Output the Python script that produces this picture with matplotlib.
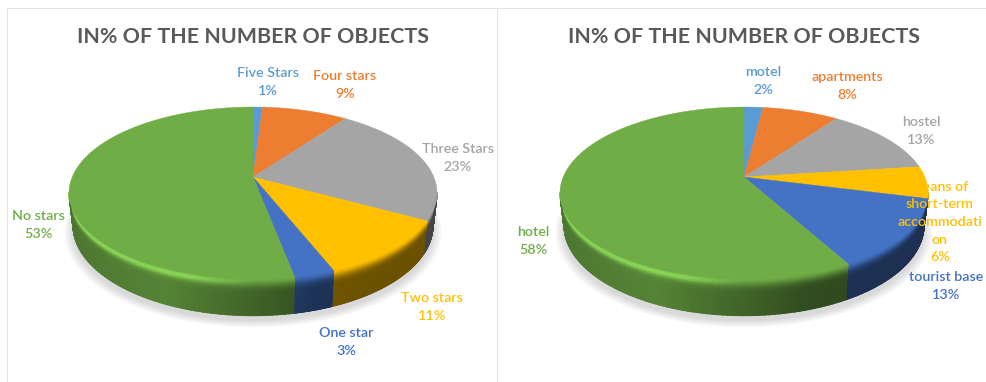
import numpy as np
import matplotlib
matplotlib.use('Agg')
import matplotlib.pyplot as plt
from matplotlib.colors import to_rgb
from matplotlib.patches import Polygon

title = 'IN% OF THE NUMBER OF OBJECTS'

stars_labels = ['Five Stars', 'Four stars', 'Three Stars', 'Two stars', 'One star', 'No stars']
stars_values = [1, 9, 23, 11, 3, 53]
stars_colors = ['#5b9bd5', '#ed7d31', '#a5a5a5', '#ffc000', '#4472c4', '#70ad47']

types_labels = ['motel', 'apartments', 'hostel',
                'means of\nshort-term\naccommodati\non', 'tourist base', 'hotel']
types_values = [2, 8, 13, 6, 13, 58]
types_colors = stars_colors

# label centres in figure pixels
stars_pos = [(268, 82), (345, 85), (458, 158), (432, 307), (346, 342), (38, 225)]
types_pos = [(763, 81), (847, 86), (921, 131), (940, 222), (946, 286), (533, 241)]

RX, RY, PERSP = 180.8, 83.0, 0.186
DEPTH = 31.7
SHRINK = 0.978
# the side wall shows between these angles, clockwise from 12 o'clock
SIDE_START, SIDE_END = np.radians(100), np.radians(260)


def project(cx, cy, ang, low=0.0):
    # tilted disc: ang is clockwise from 12 o'clock, low runs 0 (top rim) to 1 (bottom rim)
    u, v = np.sin(ang), np.cos(ang)
    d = 1 + PERSP * v
    scale = 1 - (1 - SHRINK) * low
    return cx + scale * RX * u / d, cy - scale * RY * v / d + low * DEPTH / d


def side_rgb(col, ang, low):
    # wall brightness: fades rightward, rim blends into the face with a highlight on the left
    c = np.array(to_rgb(col))
    u = np.sin(ang)
    base = np.interp(u, [-1, -0.4, 0, 0.3, 0.6, 1], [0.68, 0.76, 0.58, 0.44, 0.42, 0.42])
    rim = np.exp(-(low / 0.2) ** 2)
    glow = np.exp(-((low - 0.1) / 0.09) ** 2) * np.clip(-u * 1.1, 0, 0.3)
    shade = base + (1 - base) * rim + glow
    rgb = c[None, None, :] * shade[..., None]
    return np.clip(rgb, 0, 1)


def draw_pie(ax, cx, cy, values, colors):
    fracs = np.cumsum([0] + list(values)) / float(sum(values))
    angs = fracs * 2 * np.pi

    # soft shadow under the disc
    t = np.linspace(0, 2 * np.pi, 200)
    sx, sy = project(cx, cy, t, 1.0)
    for grow in np.linspace(1.05, 1.0, 10):
        ax.add_patch(Polygon(np.c_[cx + (sx - cx) * grow, cy + 5 + (sy - cy) * grow],
                             fc='#606060', ec='none', alpha=0.025, zorder=1))

    # side wall, one smooth mesh per slice
    heights = np.linspace(0, 1, 25)
    for i, col in enumerate(colors):
        a0, a1 = max(angs[i], SIDE_START), min(angs[i + 1], SIDE_END)
        if a1 <= a0:
            continue
        aa, hh = np.meshgrid(np.linspace(a0, a1, 80), heights)
        x, y = project(cx, cy, aa, hh)
        ax.pcolormesh(x, y, side_rgb(col, aa, hh), shading='gouraud', zorder=2)

    # top face
    for i, col in enumerate(colors):
        a = np.linspace(angs[i], angs[i + 1], 100)
        x, y = project(cx, cy, a)
        pts = np.r_[[(cx, cy)], np.c_[x, y]]
        ax.add_patch(Polygon(pts, fc=col, ec=col, lw=0.3, zorder=3))


def draw_labels(ax, labels, values, colors, pos):
    for name, val, col, (x, y) in zip(labels, values, colors, pos):
        ax.text(x, y, '%s\n%d%%' % (name, val), color=col, ha='center', va='center',
                fontsize=10.3, family='Lato', fontweight='semibold', linespacing=1.55, zorder=5)


fig = plt.figure(figsize=(9.86, 3.82), dpi=100)
ax = fig.add_axes([0, 0, 1, 1])
ax.set_xlim(0, 986)
ax.set_ylim(382, 0)
ax.axis('off')

# chart frames
ax.plot([7, 7, 986], [382, 8, 8], color='#e4e4e4', lw=0.8, zorder=0)
ax.plot([497, 497], [8, 382], color='#e4e4e4', lw=0.8, zorder=0)

for cx, values, colors, labels, pos in [
        (253, stars_values, stars_colors, stars_labels, stars_pos),
        (744, types_values, types_colors, types_labels, types_pos)]:
    draw_pie(ax, cx, 177, values, colors)
    draw_labels(ax, labels, values, colors, pos)
    ax.text(cx, 37, title, color='#595959', ha='center', va='center',
            fontsize=15.4, family='Lato', fontweight='bold', zorder=5)

ax.set_xlim(0, 986)
ax.set_ylim(382, 0)
fig.savefig('out.png', dpi=100)
